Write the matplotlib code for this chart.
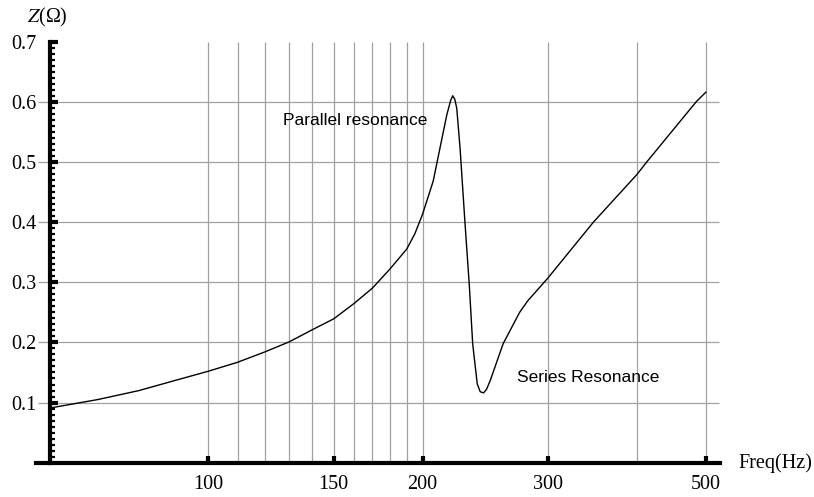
import matplotlib.pyplot as plt
import numpy as np
from matplotlib.ticker import MultipleLocator, FixedLocator, NullLocator

# Impedance curve
freq = [60, 70, 80, 90, 100, 110, 120, 130, 140, 150, 160, 170, 180, 190, 195,
        200, 207, 211.6, 216.3, 219, 220.5, 222, 223.4, 225.8, 229.5, 232.6,
        235.2, 238.7, 241, 243.6, 246, 249, 259.6, 273.8, 281, 300, 347.6, 400,
        413, 484.6, 500]
z = [0.091, 0.105, 0.120, 0.137, 0.152, 0.167, 0.184, 0.201, 0.221, 0.239,
     0.264, 0.290, 0.322, 0.355, 0.380, 0.413, 0.468, 0.523, 0.578, 0.602,
     0.610, 0.604, 0.589, 0.523, 0.396, 0.297, 0.198, 0.131, 0.118, 0.116,
     0.122, 0.137, 0.198, 0.250, 0.269, 0.307, 0.400, 0.479, 0.500, 0.600,
     0.616]

x_ticks = [100, 150, 200, 300, 500]
x_grid = [100, 110, 120, 130, 140, 150, 160, 170, 180, 190, 200, 300, 400, 500]
y_ticks = [0.1, 0.2, 0.3, 0.4, 0.5, 0.6, 0.7]
y_grid = [0.1, 0.2, 0.3, 0.4, 0.5, 0.6]

fig = plt.figure(figsize=(8.14, 4.97), dpi=100)
ax = fig.add_axes([0.0442, 0.0690, 0.8403, 0.8473])

ax.set_xscale('log')
ax.set_xlim(57.3, 523.3)
ax.set_ylim(0, 0.7)

# grid
ax.vlines(x_grid, 0, 0.7, color='#a0a0a0', lw=0.9, zorder=1)
ax.hlines(y_grid, 57.6, 522, color='#a0a0a0', lw=0.9, zorder=1)

ax.plot(freq, z, color='black', lw=1.0, zorder=3)

# axes
for s in ['top', 'right']:
    ax.spines[s].set_visible(False)
ax.spines['left'].set_position(('data', 60))
ax.spines['left'].set_linewidth(3)
ax.spines['bottom'].set_linewidth(3)
ax.spines['left'].set_zorder(4)
ax.spines['bottom'].set_zorder(4)

ax.xaxis.set_major_locator(FixedLocator(x_ticks))
ax.xaxis.set_minor_locator(NullLocator())
ax.set_xticklabels([str(v) for v in x_ticks])
ax.yaxis.set_major_locator(FixedLocator(y_ticks))
ax.yaxis.set_minor_locator(MultipleLocator(0.01))
ax.set_yticklabels([f'{v:.1f}' for v in y_ticks])

ax.tick_params(axis='x', which='major', direction='in', length=5, width=3, pad=9)
ax.tick_params(axis='y', which='major', direction='in', length=6, width=3, pad=10)
ax.tick_params(axis='y', which='minor', direction='in', length=3.5, width=1.6)
for lab in ax.get_xticklabels() + ax.get_yticklabels():
    lab.set_family('Liberation Serif')
    lab.set_fontsize(14.5)

# axis labels
fig.text(47 / 814, 1 - 17 / 497, r'$Z$(Ω)', family='Liberation Serif', fontsize=14.5,
         ha='center', va='center', math_fontfamily='stix')
fig.text(738 / 814, 1 - 463 / 497, 'Freq(Hz)', family='Liberation Serif', fontsize=14.5,
         ha='left', va='center')

# annotations
ax.text(127.3, 0.569, 'Parallel resonance', family='Liberation Sans', fontsize=12.5,
        ha='left', va='center')
ax.text(271.5, 0.141, 'Series Resonance', family='Liberation Sans', fontsize=12.5,
        ha='left', va='center')

plt.savefig('out.png', dpi=100)
